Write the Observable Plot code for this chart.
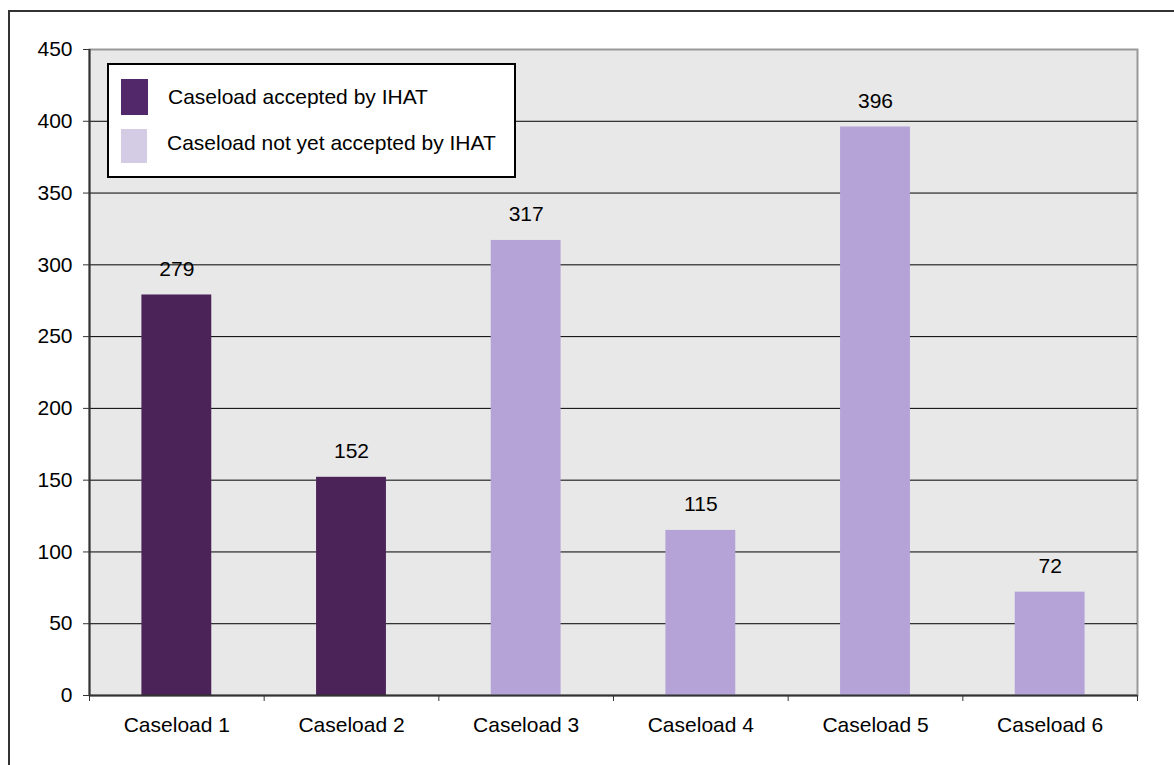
<!DOCTYPE html>
<html>
<head>
<meta charset="utf-8">
<script src="https://cdn.jsdelivr.net/npm/d3@7"></script>
<script src="https://cdn.jsdelivr.net/npm/@observablehq/plot@0.6"></script>
<style>
  html, body { margin: 0; padding: 0; background: #fff; overflow: hidden; }
  body { width: 1174px; height: 765px; position: relative; font-family: "Liberation Sans", Arial, sans-serif; }
  #frame { position: absolute; left: 8px; top: 10px; width: 1200px; height: 800px; border: 2px solid #333; pointer-events: none; }
  #chart { position: absolute; left: 0; top: 0; }
  #legend { position: absolute; left: 107px; top: 63px; width: 409px; height: 115px; box-sizing: border-box; border: 2px solid #000; background: #fff; }
  .sw { position: absolute; }
  .lt { position: absolute; font-size: 21px; line-height: 24px; color: #000; white-space: nowrap; }
</style>
</head>
<body>
<div id="chart"></div>
<div id="frame"></div>
<div id="legend"></div>
<script>
const categories = ["Caseload 1", "Caseload 2", "Caseload 3", "Caseload 4", "Caseload 5", "Caseload 6"];
const values = [279, 152, 317, 115, 396, 72];
const status = ["accepted", "accepted", "pending", "pending", "pending", "pending"];
const statusKeys = ["accepted", "pending"];
const legendLabels = ["Caseload accepted by IHAT", "Caseload not yet accepted by IHAT"];
const barColors = ["#4b2358", "#b5a3d7"];
const swatchColors = ["#52286b", "#d4cce4"];
const yTicks = [0, 50, 100, 150, 200, 250, 300, 350, 400, 450];

const data = categories.map((c, i) => ({i, c, v: values[i], s: status[i]}));
const boundaries = d3.range(-0.5, categories.length, 1);

const chart = Plot.plot({
  width: 1174,
  height: 765,
  marginLeft: 89,
  marginTop: 49,
  marginRight: 37,
  marginBottom: 70,
  style: {fontFamily: '"Liberation Sans", Arial, sans-serif', fontSize: "21px", background: "transparent"},
  x: {type: "linear", domain: [-0.5, categories.length - 0.5], axis: null},
  y: {domain: [0, 450], axis: null},
  color: {domain: statusKeys, range: barColors},
  marks: [
    Plot.frame({fill: "#e8e8e8", stroke: "#999", strokeWidth: 2}),
    Plot.ruleY(yTicks.filter(v => v > 0 && v < 450), {stroke: "#000", strokeWidth: 1}),
    Plot.rectY(data, {x1: d => d.i - 0.2, x2: d => d.i + 0.2, y: "v", fill: "s"}),
    Plot.ruleX([-0.5], {stroke: "#333", strokeWidth: 2}),
    Plot.ruleY([0], {stroke: "#333", strokeWidth: 2}),
    Plot.axisY(yTicks, {label: null, tickSize: 6, tickPadding: 11, fontSize: 21, stroke: "#333", strokeOpacity: 1, fill: "#000"}),
    Plot.axisX(boundaries, {label: null, tickSize: 6, tickFormat: () => "", stroke: "#333", strokeOpacity: 1}),
    Plot.axisX(d3.range(categories.length), {label: null, tickSize: 0, tickPadding: 22, tickFormat: i => categories[i], fontSize: 21, fill: "#000"}),
    Plot.text(data, {x: "i", y: "v", text: d => String(d.v), dy: -26, fontSize: 21, fill: "#000"})
  ]
});
document.getElementById("chart").appendChild(chart);

// legend (HTML, above the SVG)
const legend = document.getElementById("legend");
const swatchBoxes = [{l: 12, t: 14, w: 27, h: 36}, {l: 12, t: 64, w: 26, h: 34}];
const textPos = [{l: 59, t: 20}, {l: 58, t: 66}];
legendLabels.forEach((lab, k) => {
  const sw = document.createElement("div");
  sw.className = "sw";
  Object.assign(sw.style, {left: swatchBoxes[k].l + "px", top: swatchBoxes[k].t + "px", width: swatchBoxes[k].w + "px", height: swatchBoxes[k].h + "px", background: swatchColors[k]});
  legend.appendChild(sw);
  const t = document.createElement("div");
  t.className = "lt";
  t.textContent = lab;
  Object.assign(t.style, {left: textPos[k].l + "px", top: textPos[k].t + "px"});
  legend.appendChild(t);
});
</script>
</body>
</html>
